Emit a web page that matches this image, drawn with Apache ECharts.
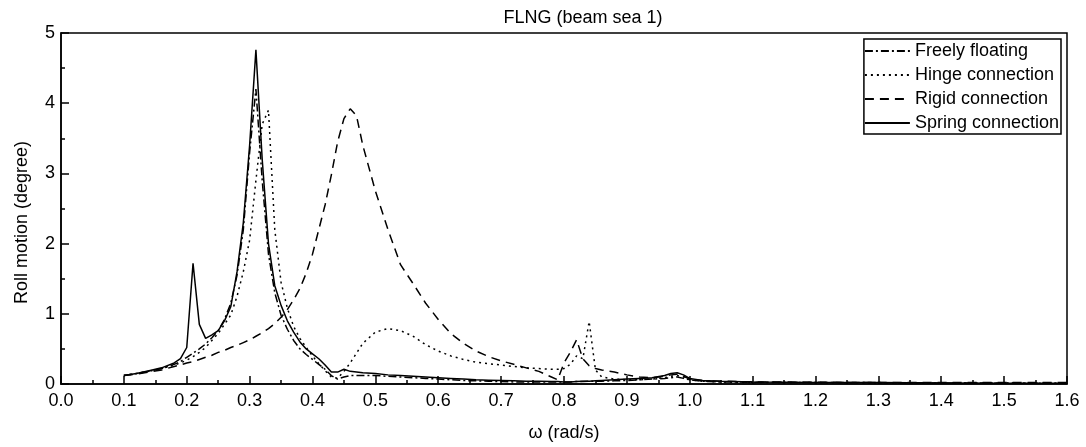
<!DOCTYPE html>
<html>
<head>
<meta charset="utf-8">
<script src="https://cdn.jsdelivr.net/npm/echarts@6/dist/echarts.min.js"></script>
<style>
  html, body { margin: 0; padding: 0; background: #fff; }
  #chart { width: 1086px; height: 447px; }
</style>
</head>
<body>
<div id="chart"></div>
<script>
const omega = [
  0.10, 0.12, 0.14, 0.16, 0.18, 0.19, 0.20, 0.21, 0.22, 0.23,
  0.24, 0.25, 0.26, 0.27, 0.28, 0.29, 0.30, 0.31, 0.32, 0.33,
  0.34, 0.35, 0.36, 0.37, 0.38, 0.39, 0.40, 0.41, 0.42, 0.43,
  0.44, 0.45, 0.46, 0.47, 0.48, 0.50, 0.52, 0.54, 0.56, 0.58,
  0.60, 0.62, 0.64, 0.66, 0.68, 0.70, 0.72, 0.74, 0.76, 0.78,
  0.79, 0.80, 0.81, 0.82, 0.83, 0.84, 0.85, 0.86, 0.88, 0.90,
  0.92, 0.94, 0.96, 0.97, 0.98, 0.99, 1.00, 1.02, 1.05, 1.10,
  1.20, 1.30, 1.40, 1.50, 1.60
];

const freelyFloating = [
  0.12, 0.15, 0.18, 0.22, 0.28, 0.32, 0.38, 0.44, 0.50, 0.57,
  0.66, 0.76, 0.92, 1.15, 1.55, 2.20, 3.30, 4.20, 2.90, 1.85,
  1.30, 0.98, 0.78, 0.62, 0.50, 0.42, 0.35, 0.28, 0.21, 0.12,
  0.07, 0.10, 0.12, 0.12, 0.12, 0.12, 0.11, 0.10, 0.09, 0.08,
  0.07, 0.06, 0.05, 0.045, 0.04, 0.035, 0.03, 0.03, 0.03, 0.03,
  0.03, 0.03, 0.03, 0.035, 0.035, 0.04, 0.04, 0.04, 0.045, 0.05,
  0.06, 0.07, 0.08, 0.09, 0.10, 0.08, 0.06, 0.04, 0.03, 0.025,
  0.02, 0.02, 0.015, 0.015, 0.01
];

const hingeConnection = [
  0.12, 0.15, 0.18, 0.22, 0.27, 0.30, 0.34, 0.39, 0.45, 0.52,
  0.62, 0.72, 0.85, 0.98, 1.25, 1.60, 2.05, 2.90, 3.70, 3.90,
  2.20, 1.45, 1.08, 0.82, 0.65, 0.52, 0.40, 0.29, 0.19, 0.10,
  0.08, 0.18, 0.30, 0.44, 0.58, 0.74, 0.79, 0.76, 0.68, 0.56,
  0.47, 0.40, 0.35, 0.31, 0.29, 0.27, 0.25, 0.23, 0.22, 0.21,
  0.21, 0.22, 0.28, 0.40, 0.36, 0.89, 0.20, 0.10, 0.07, 0.06,
  0.06, 0.07, 0.09, 0.11, 0.12, 0.10, 0.06, 0.04, 0.03, 0.02,
  0.02, 0.015, 0.015, 0.01, 0.01
];

const rigidConnection = [
  0.12, 0.14, 0.17, 0.20, 0.25, 0.27, 0.30, 0.32, 0.35, 0.38,
  0.41, 0.45, 0.48, 0.52, 0.55, 0.59, 0.63, 0.68, 0.73, 0.79,
  0.86, 0.95, 1.06, 1.20, 1.36, 1.58, 1.85, 2.20, 2.55, 2.98,
  3.45, 3.78, 3.92, 3.82, 3.40, 2.75, 2.20, 1.70, 1.43, 1.15,
  0.92, 0.72, 0.58, 0.47, 0.39, 0.33, 0.28, 0.23, 0.18, 0.10,
  0.06, 0.30, 0.45, 0.63, 0.36, 0.26, 0.22, 0.20, 0.17, 0.13,
  0.10, 0.09, 0.11, 0.13, 0.14, 0.11, 0.07, 0.05, 0.04, 0.03,
  0.025, 0.02, 0.02, 0.02, 0.02
];

const springConnection = [
  0.12, 0.15, 0.19, 0.23, 0.30, 0.36, 0.52, 1.72, 0.85, 0.65,
  0.70, 0.76, 0.90, 1.10, 1.60, 2.30, 3.40, 4.76, 3.20, 2.00,
  1.40, 1.12, 0.90, 0.74, 0.60, 0.50, 0.43, 0.36, 0.27, 0.17,
  0.17, 0.21, 0.18, 0.17, 0.16, 0.15, 0.13, 0.12, 0.11, 0.10,
  0.09, 0.08, 0.07, 0.06, 0.055, 0.05, 0.045, 0.04, 0.04, 0.035,
  0.035, 0.03, 0.03, 0.035, 0.04, 0.04, 0.045, 0.05, 0.06, 0.07,
  0.08, 0.09, 0.12, 0.15, 0.16, 0.13, 0.08, 0.05, 0.04, 0.03,
  0.02, 0.02, 0.015, 0.01, 0.01
];

const seriesNames = ['Freely floating', 'Hinge connection', 'Rigid connection', 'Spring connection'];
const seriesValues = [freelyFloating, hingeConnection, rigidConnection, springConnection];
const dashTypes = [[8, 3, 2, 3], [2, 4], [9, 6], 'solid'];

const font = 'Liberation Sans, Arial, sans-serif';

const chart = echarts.init(document.getElementById('chart'), null, { renderer: 'canvas' });

chart.setOption({
  animation: false,
  backgroundColor: '#fff',
  textStyle: { fontFamily: font, color: '#000' },
  title: {
    text: 'FLNG (beam sea 1)',
    left: 578,
    textAlign: 'center',
    top: 4,
    textStyle: { fontFamily: font, fontSize: 18, fontWeight: 'normal', color: '#000' }
  },
  grid: {
    left: 61, right: 19, top: 33, bottom: 59,
    show: true, borderColor: '#000', borderWidth: 1.5, backgroundColor: 'transparent'
  },
  legend: {
    orient: 'vertical',
    right: 25,
    top: 39,
    data: seriesNames,
    itemWidth: 45,
    itemHeight: 18,
    itemGap: 6,
    padding: [3, 2, 2, 0],
    borderColor: '#000',
    borderWidth: 1.5,
    backgroundColor: '#fff',
    itemStyle: { opacity: 0 },
    textStyle: { fontFamily: font, fontSize: 18, color: '#000' }
  },
  xAxis: {
    type: 'value',
    min: 0,
    max: 1.6,
    interval: 0.1,
    name: 'ω (rad/s)',
    nameLocation: 'middle',
    nameGap: 40,
    nameTextStyle: { fontFamily: font, fontSize: 18, color: '#000' },
    axisLine: { show: true, onZero: false, lineStyle: { color: '#000', width: 1.5 } },
    axisTick: { show: true, inside: true, length: 8, lineStyle: { color: '#000', width: 1.5 } },
    minorTick: { show: true, splitNumber: 2, length: 4, lineStyle: { color: '#000', width: 1.5 } },
    splitLine: { show: false },
    axisLabel: {
      fontFamily: font, fontSize: 18, color: '#000', margin: 8,
      formatter: v => v.toFixed(1)
    }
  },
  yAxis: {
    type: 'value',
    min: 0,
    max: 5,
    interval: 1,
    name: 'Roll motion (degree)',
    nameLocation: 'middle',
    nameGap: 30,
    nameTextStyle: { fontFamily: font, fontSize: 18, color: '#000', padding: [0, 28, 0, 0] },
    axisLine: { show: true, onZero: false, lineStyle: { color: '#000', width: 1.5 } },
    axisTick: { show: true, inside: true, length: 8, lineStyle: { color: '#000', width: 1.5 } },
    minorTick: { show: true, splitNumber: 2, length: 4, lineStyle: { color: '#000', width: 1.5 } },
    splitLine: { show: false },
    axisLabel: { fontFamily: font, fontSize: 18, color: '#000', margin: 6 }
  },
  series: seriesNames.map((name, k) => ({
    name: name,
    type: 'line',
    symbol: 'none',
    data: omega.map((w, i) => [w, seriesValues[k][i]]),
    itemStyle: { color: '#000' },
    lineStyle: { color: '#000', width: 1.5, type: dashTypes[k] },
    z: 2 + k
  }))
});
</script>
</body>
</html>
